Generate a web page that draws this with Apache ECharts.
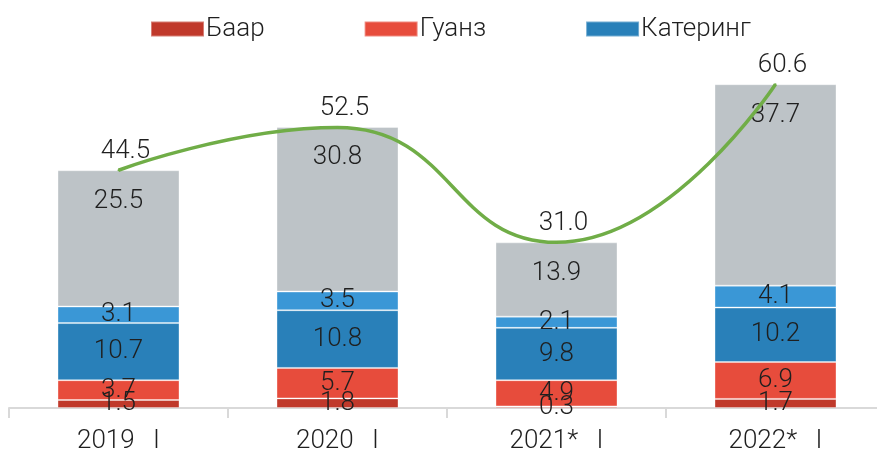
<!DOCTYPE html>
<html>
<head>
<meta charset="utf-8">
<script src="https://cdn.jsdelivr.net/npm/echarts@6/dist/echarts.min.js"></script>
<style>
  html, body { margin: 0; padding: 0; background: #fff; }
  #chart { width: 877px; height: 452px; }
</style>
</head>
<body>
<div id="chart"></div>
<script>
var categories = ['2019 I', '2020 I', '2021* I', '2022* I']
var baar = [1.5, 1.8, 0.3, 1.7]
var guanz = [3.7, 5.7, 4.9, 6.9]
var catering = [10.7, 10.8, 9.8, 10.2]
var cateringExtra = [3.1, 3.5, 2.1, 4.1]
var other = [25.5, 30.8, 13.9, 37.7]
var totals = [44.5, 52.5, 31.0, 60.6]

var font = 'Roboto'
var textColor = '#1f1f1f'

function barSeries(name, data, color, labelPos) {
  return {
    name: name,
    type: 'bar',
    stack: 'total',
    barWidth: 122,
    data: data,
    itemStyle: {
      color: color,
      borderColor: 'rgba(255,255,255,0.35)',
      borderWidth: 1
    },
    label: {
      show: true,
      position: labelPos || 'inside',
      distance: 18,
      fontFamily: font,
      fontWeight: 300,
      fontSize: 26,
      color: textColor,
      formatter: function (p) { return p.value.toFixed(1) }
    },
    labelLayout: { hideOverlap: false },
    emphasis: { disabled: true }
  }
}

var chart = echarts.init(document.getElementById('chart'))
chart.setOption({
  animation: false,
  textStyle: { fontFamily: font },
  legend: {
    data: ['Баар', 'Гуанз', 'Катеринг'],
    left: 145,
    top: 11,
    itemWidth: 53,
    itemHeight: 15,
    itemGap: 99,
    icon: 'rect',
    textStyle: { fontFamily: font, fontWeight: 300, fontSize: 26, color: textColor, padding: [0, 0, 0, -3] }
  },
  grid: { left: 9, width: 876, top: 34, bottom: 44, containLabel: false, outerBoundsMode: 'none' },
  xAxis: {
    type: 'category',
    data: categories,
    axisLine: { lineStyle: { color: '#d9d9d9', width: 2 } },
    axisTick: { show: true, length: 10, lineStyle: { color: '#d9d9d9', width: 2 } },
    axisLabel: {
      margin: 20,
      fontFamily: font,
      fontWeight: 300,
      fontSize: 26,
      color: textColor,
      formatter: function (v) {
        var parts = v.split(' ')
        return parts[0] + ' {i|' + parts[1] + '}'
      },
      rich: {
        i: { fontFamily: font, fontWeight: 300, fontSize: 26, color: textColor, padding: [0, 0, 0, 12] }
      }
    }
  },
  yAxis: {
    type: 'value',
    min: 0,
    max: 70,
    show: false
  },
  series: [
    barSeries('Баар', baar, '#c0392b'),
    barSeries('Гуанз', guanz, '#e74c3c'),
    barSeries('Катеринг', catering, '#2980b9'),
    barSeries('Катеринг (бусад)', cateringExtra, '#3a97d6'),
    barSeries('Бусад', other, '#bdc3c7', 'insideTop'),
    {
      name: 'Нийт',
      type: 'line',
      data: totals,
      smooth: 0.5,
      symbol: 'circle',
      symbolSize: 2,
      showSymbol: true,
      itemStyle: { color: '#70ad47' },
      z: 10,
      lineStyle: { color: '#70ad47', width: 3.5 },
      label: {
        show: true,
        position: 'top',
        distance: 5,
        padding: [0, 0, 0, 14],
        fontFamily: font,
        fontWeight: 300,
        fontSize: 26,
        color: textColor,
        formatter: function (p) { return p.value.toFixed(1) }
      },
      labelLayout: { hideOverlap: false },
      emphasis: { disabled: true }
    }
  ]
})
</script>
</body>
</html>
